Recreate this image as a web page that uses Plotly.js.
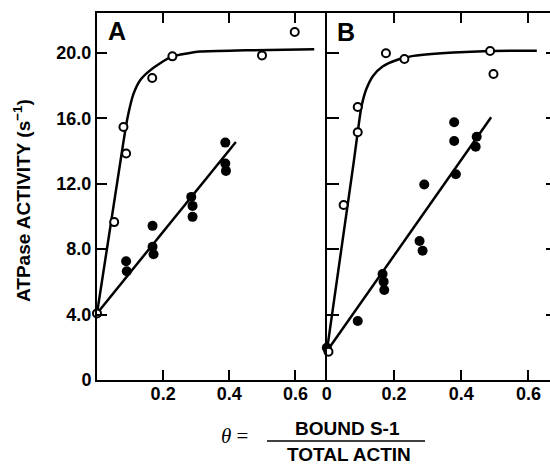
<!DOCTYPE html>
<html>
<head>
<meta charset="utf-8">
<script src="https://cdn.plot.ly/plotly-3.0.1.min.js"></script>
<style>
html,body{margin:0;padding:0;overflow:hidden;background:#fff;}
#chart{width:558px;height:466px;}
</style>
</head>
<body>
<div id="chart"></div>
<script>
// ---- Panel A data ----
var aOpenX = [0, 0.052, 0.080, 0.088, 0.167, 0.228, 0.499, 0.598];
var aOpenY = [4.07, 9.65, 15.46, 13.84, 18.46, 19.78, 19.84, 21.27];
var aFilledX = [0.088, 0.090, 0.168, 0.168, 0.171, 0.285, 0.289, 0.289, 0.388, 0.388, 0.390];
var aFilledY = [7.26, 6.65, 9.42, 8.14, 7.69, 11.19, 10.64, 9.97, 14.51, 13.23, 12.78];
var aCurveX = [0, 0.062, 0.080, 0.092, 0.1106, 0.131, 0.156, 0.191, 0.227, 0.312, 0.45, 0.657];
var aCurveY = [4.07, 12.2, 14.55, 16.0, 17.5, 18.34, 18.85, 19.36, 19.76, 20.07, 20.15, 20.21];
var aLineX = [0, 0.42];
var aLineY = [4.07, 14.55];

// ---- Panel B data ----
var bOpenX = [0.005, 0.050, 0.092, 0.092, 0.176, 0.231, 0.486, 0.496];
var bOpenY = [1.73, 10.70, 15.14, 16.69, 19.97, 19.62, 20.11, 18.70];
var bFilledX = [0, 0.092, 0.166, 0.169, 0.171, 0.276, 0.285, 0.290, 0.379, 0.379, 0.384, 0.443, 0.446];
var bFilledY = [1.97, 3.61, 6.48, 6.01, 5.50, 8.50, 7.90, 11.95, 15.75, 14.61, 12.57, 14.26, 14.87];
var bCurveX = [0, 0.080, 0.093, 0.103, 0.118, 0.138, 0.165, 0.208, 0.250, 0.377, 0.486, 0.625];
var bCurveY = [1.75, 13.3, 15.3, 16.7, 17.8, 18.6, 19.15, 19.56, 19.78, 20.01, 20.11, 20.13];
var bLineX = [0, 0.489];
var bLineY = [1.75, 16.06];

// ---- Ticks ----
var yTickVals = [0, 4, 8, 12, 16, 20];
var yTickText = ['0', '4.0', '8.0', '12.0', '16.0', '20.0'];
var xATickVals = [0.2, 0.4, 0.6];
var xBTickVals = [0, 0.2, 0.4, 0.6];
var xTickText = function(v){ return v.map(function(t){ return t === 0 ? '0' : t.toFixed(1); }); };

var FONT = 'Liberation Sans, Arial, Helvetica, sans-serif';

function curve(x, y, xa, ya, shape) {
  return {x: x, y: y, xaxis: xa, yaxis: ya, mode: 'lines', type: 'scatter',
    line: {color: '#000', width: 2.5, shape: shape, smoothing: 0.6}, hoverinfo: 'skip', cliponaxis: false};
}
function openPts(x, y, xa, ya) {
  return {x: x, y: y, xaxis: xa, yaxis: ya, mode: 'markers', type: 'scatter', cliponaxis: false,
    marker: {symbol: 'circle', size: 8, color: '#fff', line: {color: '#000', width: 2}}};
}
function filledPts(x, y, xa, ya) {
  return {x: x, y: y, xaxis: xa, yaxis: ya, mode: 'markers', type: 'scatter', cliponaxis: false,
    marker: {symbol: 'circle', size: 10, color: '#000', line: {width: 0}}};
}

var data = [
  curve(aCurveX, aCurveY, 'x', 'y', 'spline'),
  curve(aLineX, aLineY, 'x', 'y', 'linear'),
  filledPts(aFilledX, aFilledY, 'x', 'y'),
  openPts(aOpenX, aOpenY, 'x', 'y'),
  curve(bCurveX, bCurveY, 'x2', 'y2', 'spline'),
  curve(bLineX, bLineY, 'x2', 'y2', 'linear'),
  filledPts(bFilledX, bFilledY, 'x2', 'y2'),
  openPts(bOpenX, bOpenY, 'x2', 'y2')
];

var axBase = {
  showgrid: false, zeroline: false, showline: true, linecolor: '#000', linewidth: 2,
  ticks: 'inside', ticklen: 10, tickwidth: 2, tickcolor: '#000',
  tickfont: {family: FONT, size: 18, color: '#000', weight: 'bold'},
  fixedrange: true
};
function ax(extra) { return Object.assign({}, axBase, extra); }

var layout = {
  width: 558, height: 466,
  margin: {l: 97, r: 0, t: 13, b: 86},
  paper_bgcolor: '#fff', plot_bgcolor: '#fff',
  showlegend: false,
  font: {family: FONT, color: '#000'},
  xaxis: ax({domain: [0, 0.4985], range: [0, 0.695], anchor: 'y', mirror: 'ticks',
    tickvals: xATickVals, ticktext: xTickText(xATickVals), ticklabelstandoff: -4}),
  xaxis2: ax({domain: [0.4985, 1], range: [0, 0.688], anchor: 'y2', mirror: 'ticks',
    tickvals: xBTickVals, ticktext: xTickText(xBTickVals), ticklabelstandoff: -4}),
  yaxis: ax({domain: [0, 1], range: [0, 22.43], anchor: 'x', mirror: false,
    tickvals: yTickVals, ticktext: yTickText, ticklabelstandoff: 0}),
  yaxis2: ax({domain: [0, 1], range: [0, 22.43], anchor: 'x2', mirror: 'ticks',
    tickvals: yTickVals, showticklabels: false, ticklen: 12}),
  annotations: [
    {text: '<b>A</b>', xref: 'paper', yref: 'paper', x: 0.0434, y: 0.9496, showarrow: false,
      xanchor: 'center', yanchor: 'middle', font: {family: FONT, size: 25, color: '#000'}},
    {text: '<b>B</b>', xref: 'paper', yref: 'paper', x: 0.540, y: 0.948, showarrow: false,
      xanchor: 'center', yanchor: 'middle', font: {family: FONT, size: 25, color: '#000'}},
    {text: '<b>ATPase ACTIVITY (s<sup>\u22121</sup>)</b>', xref: 'paper', yref: 'paper',
      x: -0.163, y: 0.490, textangle: -90, showarrow: false, xanchor: 'center', yanchor: 'middle',
      font: {family: FONT, size: 19, color: '#000'}},
    {text: '<i>\u03b8</i> =', xref: 'paper', yref: 'paper', x: 0.2972, y: -0.1526, showarrow: false,
      xanchor: 'center', yanchor: 'middle', font: {family: 'Liberation Serif, Times New Roman, serif', size: 21, color: '#000'}},
    {text: '<b>BOUND S-1</b>', xref: 'paper', yref: 'paper', x: 0.5423, y: -0.1308, showarrow: false,
      xanchor: 'center', yanchor: 'middle', font: {family: FONT, size: 19, color: '#000'}},
    {text: '<b>TOTAL ACTIN</b>', xref: 'paper', yref: 'paper', x: 0.5466, y: -0.2018, showarrow: false,
      xanchor: 'center', yanchor: 'middle', font: {family: FONT, size: 19, color: '#000'}}
  ],
  shapes: [
    {type: 'line', xref: 'paper', yref: 'paper', x0: 0.3688, x1: 0.7115, y0: -0.1662, y1: -0.1662,
      line: {color: '#000', width: 1.5}}
  ]
};

Plotly.newPlot('chart', data, layout, {staticPlot: true, displayModeBar: false});
</script>
</body>
</html>
